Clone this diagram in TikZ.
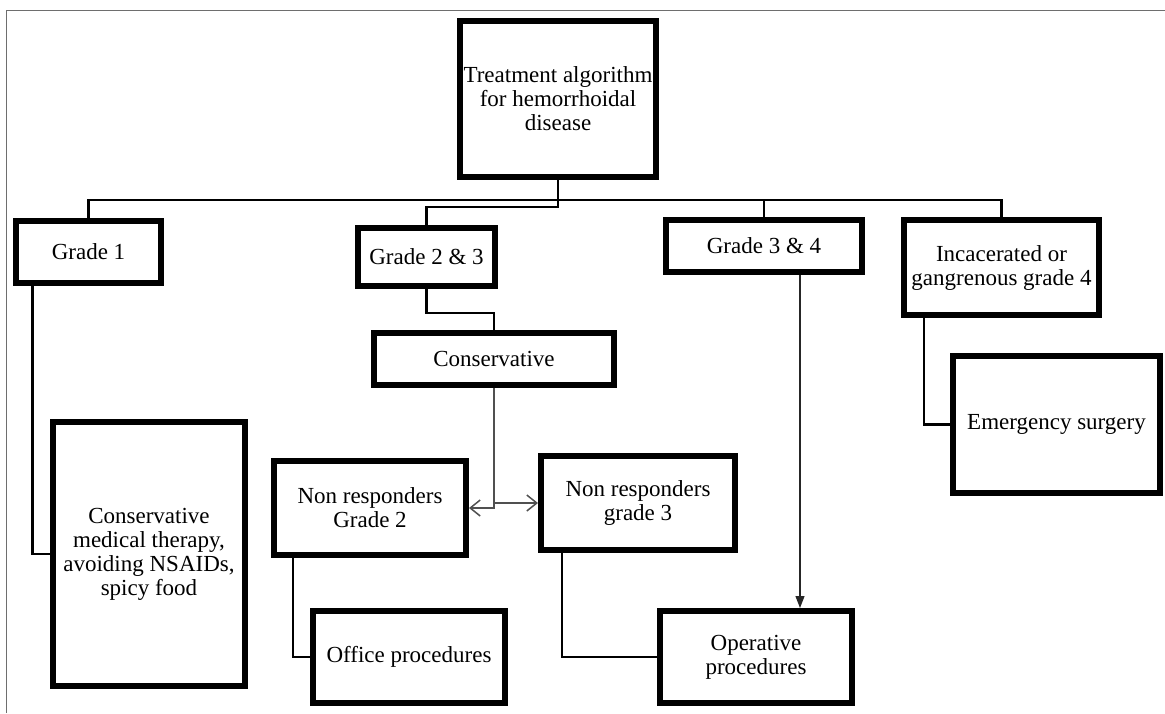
\documentclass[tikz,border=0pt]{standalone}
\usepackage{fontspec}
\setmainfont{Liberation Serif}
\usepackage{tikz}
\usetikzlibrary{arrows.meta,positioning,calc,shadows}
\definecolor{encre}{HTML}{000000}
\definecolor{cadre}{RGB}{110,110,110}
\definecolor{fleche}{RGB}{80,80,80}
\tikzset{
  boite/.style={rectangle, draw=#1, line width=6pt, fill=white, align=center,
                font=\fontsize{23}{24}\selectfont, inner sep=2pt,
                drop shadow={opacity=0.22, shadow xshift=1.5pt, shadow yshift=-2pt}},
  lien/.style={line width=2.4pt, draw=encre},
  arrg/.style={-{Straight Barb[length=10pt,width=16pt]}, line width=1.5pt, draw=fleche},
  arr/.style={-{Triangle[length=12pt,width=9pt]}, line width=1.2pt, draw=encre!85},
}

\begin{document}
\begin{tikzpicture}[x=1pt, y=-1pt]
    \useasboundingbox (0,0) rectangle (1165,713);
    \draw[cadre, line width=1pt] (6,713) -- (6,10) -- (1165,10);
    \node[boite=encre, minimum width=196, minimum height=156] (root) at (558,99) {Treatment algorithm\\for hemorrhoidal\\disease};
    \node[boite=encre, minimum width=145, minimum height=62] (g1) at (88.5,252) {Grade 1};
    \node[boite=encre, minimum width=137, minimum height=58] (g23) at (426.5,257) {Grade 2 \& 3};
    \node[boite=encre, minimum width=196, minimum height=52] (g34) at (764,246) {Grade 3 \& 4};
    \node[boite=encre, minimum width=195, minimum height=95] (g4) at (1001.5,267.5) {Incacerated or\\gangrenous grade 4};
    \node[boite=encre, minimum width=240, minimum height=52] (cons) at (494,359) {Conservative};
    \node[boite=encre, minimum width=192, minimum height=264] (cmt) at (149,554) {Conservative\\medical therapy,\\avoiding NSAIDs,\\spicy food};
    \node[boite=encre, minimum width=192, minimum height=94] (nr2) at (370,508) {Non responders\\Grade 2};
    \node[boite=encre, minimum width=194, minimum height=94] (nr3) at (638,503) {Non responders\\grade 3};
    \node[boite=encre, minimum width=192, minimum height=92] (off) at (409,657) {Office procedures};
    \node[boite=encre, minimum width=192, minimum height=92] (oper) at (756,657) {Operative\\procedures};
    \node[boite=encre, minimum width=207, minimum height=137] (emer) at (1056.5,424.5) {Emergency surgery};
    \coordinate (bus) at (0,200);
    \coordinate (coude) at (0,207);
    \coordinate (fl) at ([xshift=36pt]g34.south);
    \draw[lien](g1.north) -- (g1.north |- bus) -- (g4.north |- bus) -- (g4.north);
    \draw[lien](g34.north |- bus) -- (g34.north);
    \draw[lien](root.south) -- (root.south |- coude) -| (g23.north);
    \draw[lien](g23.south) -- ++(0,24) -| (cons.north);
    \draw[lien]([xshift=-56pt]g1.south) |- (cmt.west);
    \draw[lien]([xshift=22pt]nr2.south west) |- (off.west);
    \draw[lien]([xshift=24pt]nr3.south west) |- (oper.west);
    \draw[lien]([xshift=23pt]g4.south west) |- (emer.west);
    \draw[arrg](cons.south) |- (nr2.east);
    \draw[arrg](cons.south |- nr3.west) -- (nr3.west);
    \draw[arr](fl) -- (fl |- oper.north);
  \end{tikzpicture}
\end{document}
